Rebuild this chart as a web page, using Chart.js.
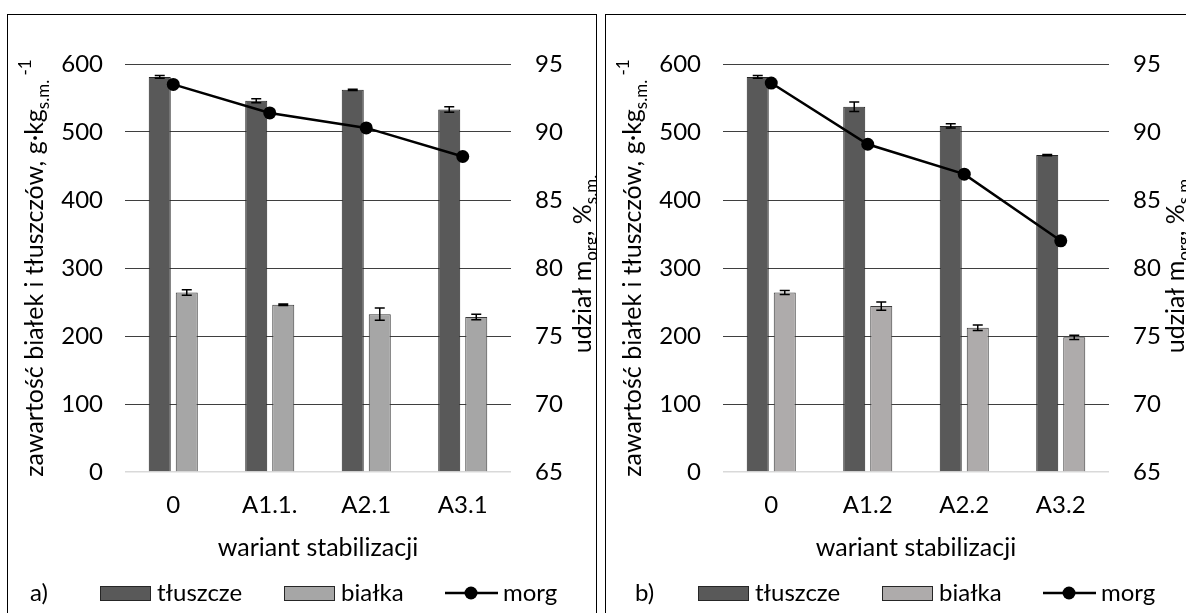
<!DOCTYPE html>
<html>
<head>
<meta charset="utf-8">
<script src="https://cdn.jsdelivr.net/npm/chart.js@4.4.1/dist/chart.umd.min.js"></script>
<style>
body { margin: 0; background: #fff; width: 1186px; height: 613px; overflow: hidden; position: relative; }
.panel { position: absolute; top: 14px; width: 588px; height: 610px; border: 1px solid #000; background: #fff; overflow: hidden; }
#pa { left: 7px; }
#pb { left: 605px; }
canvas { position: absolute; left: 0; top: 0; }
</style>
</head>
<body>
<div class="panel" id="pa"><canvas id="ca" width="588" height="600"></canvas></div>
<div class="panel" id="pb"><canvas id="cb" width="588" height="600"></canvas></div>
<script>
// dane
const categoriesA = ['0', 'A1.1.', 'A2.1', 'A3.1'];
const fatA = [581, 546, 562, 533];
const fatErrA = [2, 3, 1, 4];
const proteinA = [264, 246, 232, 228];
const proteinErrA = [4, 1, 9, 4];
const morgA = [93.5, 91.4, 90.3, 88.2];

const categoriesB = ['0', 'A1.2', 'A2.2', 'A3.2'];
const fatB = [581, 537, 509, 466];
const fatErrB = [2, 7, 3, 1];
const proteinB = [264, 244, 212, 198];
const proteinErrB = [3, 6, 4, 3];
const morgB = [93.6, 89.1, 86.9, 82.0];

const leftTicks = [0, 100, 200, 300, 400, 500, 600];
const rightTicks = [65, 70, 75, 80, 85, 90, 95];

const FONT = 'Lato';
const FS = 24;      // podpisy osi, legenda
const TS = 25;      // tytuły osi
Chart.defaults.font.family = FONT;
Chart.defaults.font.size = FS;
Chart.defaults.color = '#000';

// tekst z indeksami dolnymi / górnymi
function drawRich(ctx, parts, x, y, rot, size) {
  ctx.save();
  ctx.translate(x, y);
  ctx.rotate(rot);
  ctx.textAlign = 'left';
  ctx.textBaseline = 'alphabetic';
  ctx.fillStyle = '#000';
  let total = 0;
  const ws = parts.map(p => {
    ctx.font = ((p.sub || p.sup) ? size * 0.68 : size) + 'px ' + FONT;
    const w = ctx.measureText(p.t).width;
    total += w;
    return w;
  });
  let cx = -total / 2;
  parts.forEach((p, i) => {
    ctx.font = ((p.sub || p.sup) ? size * 0.68 : size) + 'px ' + FONT;
    const dy = p.sub ? size * 0.22 : (p.sup ? -size * 0.5 : 0);
    ctx.fillText(p.t, cx, dy);
    cx += ws[i];
  });
  ctx.restore();
}

const errorBars = {
  id: 'errorBars',
  afterDatasetsDraw(chart) {
    const ctx = chart.ctx;
    chart.data.datasets.forEach((ds, i) => {
      if (!ds.errors) return;
      const meta = chart.getDatasetMeta(i);
      const sc = chart.scales[meta.yAxisID];
      meta.data.forEach((bar, j) => {
        const v = ds.data[j], e = ds.errors[j];
        const y1 = sc.getPixelForValue(v + e), y2 = sc.getPixelForValue(v - e);
        ctx.save();
        ctx.strokeStyle = '#000';
        ctx.lineWidth = 1.5;
        ctx.beginPath();
        ctx.moveTo(bar.x, y1); ctx.lineTo(bar.x, y2);
        ctx.moveTo(bar.x - 5, y1); ctx.lineTo(bar.x + 5, y1);
        ctx.moveTo(bar.x - 5, y2); ctx.lineTo(bar.x + 5, y2);
        ctx.stroke();
        ctx.restore();
      });
    });
  }
};

const decorations = {
  id: 'decorations',
  afterDraw(chart) {
    const ctx = chart.ctx;
    const o = chart.options.plugins.decorations;
    const ca = chart.chartArea;
    const midY = (ca.top + ca.bottom) / 2;
    drawRich(ctx, [
      { t: 'zawartość białek i tłuszczów, g·kg' },
      { t: 's.m.', sub: true },
      { t: ' -1', sup: true }
    ], o.leftTitleX, midY, -Math.PI / 2, TS);
    drawRich(ctx, [
      { t: 'udział m' },
      { t: 'org', sub: true },
      { t: ', %' },
      { t: 's.m.', sub: true }
    ], o.rightTitleX, midY - 4, -Math.PI / 2, TS);

    ctx.save();
    ctx.font = TS + 'px ' + FONT;
    ctx.fillStyle = '#000';
    ctx.textAlign = 'center';
    ctx.textBaseline = 'middle';
    ctx.fillText('wariant stabilizacji', (ca.left + ca.right) / 2, 533);

    // legenda
    const ly = 578;
    ctx.font = FS + 'px ' + FONT;
    ctx.textAlign = 'left';
    ctx.fillText(o.letter, o.letterX, ly);
    ctx.lineWidth = 1;
    ctx.strokeStyle = '#262626';
    ctx.fillStyle = o.fatColor;
    ctx.fillRect(92, ly - 7, 51, 15);
    ctx.strokeRect(92.5, ly - 6.5, 50, 14);
    ctx.fillStyle = o.proteinColor;
    ctx.fillRect(276, ly - 7, 51, 15);
    ctx.strokeRect(276.5, ly - 6.5, 50, 14);
    ctx.fillStyle = '#000';
    ctx.fillText('tłuszcze', 149, ly);
    ctx.fillText('białka', 333, ly);
    ctx.strokeStyle = '#000';
    ctx.lineWidth = 2.5;
    ctx.beginPath();
    ctx.moveTo(437, ly); ctx.lineTo(490, ly);
    ctx.stroke();
    ctx.beginPath();
    ctx.arc(463, ly, 6.5, 0, Math.PI * 2);
    ctx.fill();
    ctx.fillText('morg', 495, ly);
    ctx.restore();
  }
};

function makeChart(id, cats, fat, fatErr, prot, protErr, morg, deco) {
  return new Chart(document.getElementById(id), {
    data: {
      labels: cats,
      datasets: [
        {
          type: 'line', label: 'morg', data: morg, yAxisID: 'y1', order: 0,
          borderColor: '#000', borderWidth: 2.5, backgroundColor: '#000',
          pointRadius: 6.5, pointBackgroundColor: '#000', pointBorderWidth: 0, tension: 0
        },
        {
          type: 'bar', label: 'tłuszcze', data: fat, errors: fatErr, yAxisID: 'y', order: 1,
          backgroundColor: deco.fatColor, borderColor: '#262626', borderWidth: 1,
          categoryPercentage: 0.56, barPercentage: 0.815
        },
        {
          type: 'bar', label: 'białka', data: prot, errors: protErr, yAxisID: 'y', order: 1,
          backgroundColor: deco.proteinColor, borderColor: '#3a3a3a', borderWidth: 1,
          categoryPercentage: 0.56, barPercentage: 0.815
        }
      ]
    },
    options: {
      responsive: false,
      animation: false,
      layout: { padding: { top: 49, left: 0, right: 0, bottom: 0 } },
      plugins: {
        legend: { display: false },
        tooltip: { enabled: false },
        decorations: deco
      },
      scales: {
        x: {
          grid: { display: false, drawTicks: false },
          border: { display: false },
          ticks: { padding: 19, font: { size: FS } },
          afterFit(s) { s.height = 143; }
        },
        y: {
          position: 'left', min: 0, max: 600,
          afterBuildTicks(s) { s.ticks = leftTicks.map(v => ({ value: v })); },
          grid: {
            drawTicks: false,
            color: c => c.tick && c.tick.value === 0 ? '#d9d9d9' : '#3f3f3f',
            lineWidth: c => c.tick && c.tick.value === 0 ? 1.5 : 1
          },
          border: { display: false },
          ticks: { padding: 22 },
          afterFit(s) { s.width = 117; }
        },
        y1: {
          position: 'right', min: 65, max: 95,
          afterBuildTicks(s) { s.ticks = rightTicks.map(v => ({ value: v })); },
          grid: { display: false, drawTicks: false },
          border: { display: false },
          ticks: { padding: 24 },
          afterFit(s) { s.width = 85; }
        }
      }
    },
    plugins: [errorBars, decorations]
  });
}

makeChart('ca', categoriesA, fatA, fatErrA, proteinA, proteinErrA, morgA, {
  letter: 'a)', letterX: 22, fatColor: '#595959', proteinColor: '#a6a6a6',
  leftTitleX: 35, rightTitleX: 583
});
makeChart('cb', categoriesB, fatB, fatErrB, proteinB, proteinErrB, morgB, {
  letter: 'b)', letterX: 29, fatColor: '#595959', proteinColor: '#aeabab',
  leftTitleX: 35, rightTitleX: 578
});
</script>
</body>
</html>
